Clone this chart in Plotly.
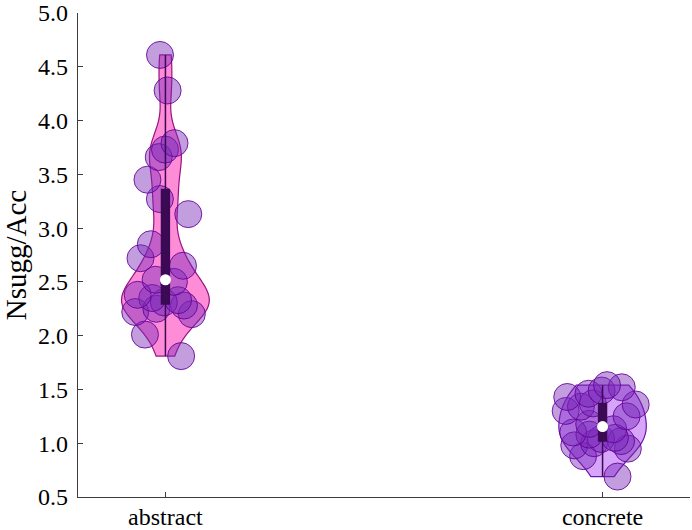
import numpy as np
import plotly.graph_objects as go

categories = ["abstract", "concrete"]
abstract_vals = [4.61, 4.28, 3.79, 3.73, 3.66, 3.45, 3.27, 3.13, 2.85, 2.72, 2.65,
                 2.52, 2.50, 2.38, 2.35, 2.33, 2.31, 2.28, 2.25, 2.22, 2.20, 2.01, 1.81]
concrete_vals = [1.54, 1.52, 1.49, 1.46, 1.43, 1.37, 1.36, 1.34, 1.30, 1.25, 1.18,
                 1.13, 1.10, 1.08, 1.05, 1.04, 1.02, 1.00, 0.98, 0.95, 0.88, 0.69]
y_ticks = [0.5, 1.0, 1.5, 2.0, 2.5, 3.0, 3.5, 4.0, 4.5, 5.0]

series = [abstract_vals, concrete_vals]
violin_fill = ["rgb(255,140,215)", "rgb(214,165,250)"]
violin_line = ["rgb(150,20,130)", "rgb(110,20,170)"]
dark = "rgb(60,10,85)"

fig = go.Figure()
for cat, vals, fc, lc in zip(categories, series, violin_fill, violin_line):
    fig.add_trace(go.Violin(
        x=[cat] * len(vals), y=vals, name=cat,
        fillcolor=fc, line=dict(color=lc, width=1.2), opacity=1,
        spanmode="hard", bandwidth=0.19, width=0.2, scalemode="width",
        points="all", pointpos=0, jitter=1.0,
        marker=dict(size=27, color="rgba(120,40,185,0.45)",
                    line=dict(color="rgba(100,0,150,0.85)", width=1)),
        box_visible=False, meanline_visible=False, hoveron="points",
        showlegend=False,
    ))
for cat, vals in zip(categories, series):
    fig.add_trace(go.Box(
        x=[cat] * len(vals), y=vals, name=cat,
        boxpoints=False, width=0.018, whiskerwidth=0, quartilemethod="inclusive",
        fillcolor=dark, line=dict(color=dark, width=1.5),
        showlegend=False,
    ))
fig.add_trace(go.Scatter(
    x=categories, y=[float(np.median(v)) for v in series], mode="markers",
    marker=dict(size=11, color="white", line=dict(width=0)),
    showlegend=False,
))

fig.update_layout(
    width=692, height=530,
    margin=dict(l=78, r=2, t=13, b=33),
    paper_bgcolor="white", plot_bgcolor="white",
    font=dict(family="Liberation Serif", size=24, color="black"),
    violinmode="overlay", boxmode="overlay",
    showlegend=False,
)
fig.update_xaxes(
    type="category", range=[-0.2, 1.2], showgrid=False, zeroline=False,
    showline=True, linecolor="rgb(60,60,60)", linewidth=1.2,
    ticks="inside", ticklen=5, tickcolor="rgb(60,60,60)",
    automargin=False, ticklabeloverflow="allow", ticklabelstandoff=-2,
)
fig.update_yaxes(
    range=[0.5, 5.0], tickvals=y_ticks, ticktext=[f"{t:.1f}" for t in y_ticks],
    showgrid=False, zeroline=False,
    showline=True, linecolor="rgb(60,60,60)", linewidth=1.2,
    ticks="inside", ticklen=5, tickcolor="rgb(60,60,60)",
    ticklabelstandoff=4, automargin=False, ticklabeloverflow="allow",
    title=dict(text="Nsugg/Acc", standoff=14),
)
fig.write_html("out.html", config={"displayModeBar": False},
               post_script="document.body.style.margin='0px';")
